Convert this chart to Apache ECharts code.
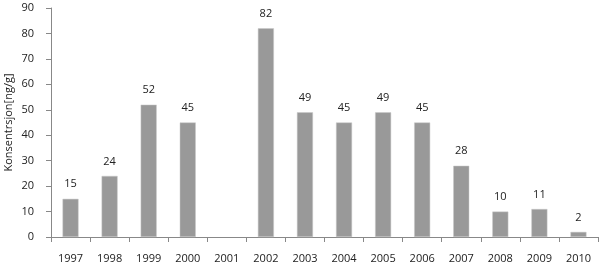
<!DOCTYPE html>
<html><head><meta charset="utf-8">
<script src="https://cdn.jsdelivr.net/npm/echarts@6/dist/echarts.min.js"></script>
<style>html,body{margin:0;padding:0;background:#fff}#c{width:600px;height:267px}</style>
</head><body><div id="c"></div>
<script>
const categories = ['1997','1998','1999','2000','2001','2002','2003','2004','2005','2006','2007','2008','2009','2010'];
const values = [15,24,52,45,null,82,49,45,49,45,28,10,11,2];
const yTitle = 'Konsentrsjon[ng/g]';
const chart = echarts.init(document.getElementById('c'), null, {renderer:'canvas'});
const font = 'Open Sans';
chart.setOption({
  animation:false,
  grid:{left:51,right:2,top:8,bottom:30,containLabel:false,outerBoundsMode:'none'},
  xAxis:{type:'category',data:categories,
    axisLine:{lineStyle:{color:'#888',width:1}},
    axisTick:{show:true,length:5,lineStyle:{color:'#888'}},
    axisLabel:{color:'#222',fontFamily:font,fontSize:11,margin:16,interval:0}},
  yAxis:{type:'value',min:0,max:90,interval:10,
    name:yTitle,nameLocation:'middle',nameGap:37,nameRotate:90,
    nameTextStyle:{color:'#222',fontFamily:font,fontSize:11},
    nameMoveOverlap:false,
    axisLine:{show:true,lineStyle:{color:'#888',width:1}},
    axisTick:{show:true,length:5,lineStyle:{color:'#888'}},
    splitLine:{show:false},
    axisLabel:{color:'#222',fontFamily:font,fontSize:11,margin:17}},
  series:[{type:'bar',data:values,barWidth:16,
    itemStyle:{color:'#999999',borderColor:'#c8c8c8',borderWidth:0.5},
    label:{show:true,position:'top',distance:9,color:'#222',fontFamily:font,fontSize:11}}]
});
</script></body></html>
